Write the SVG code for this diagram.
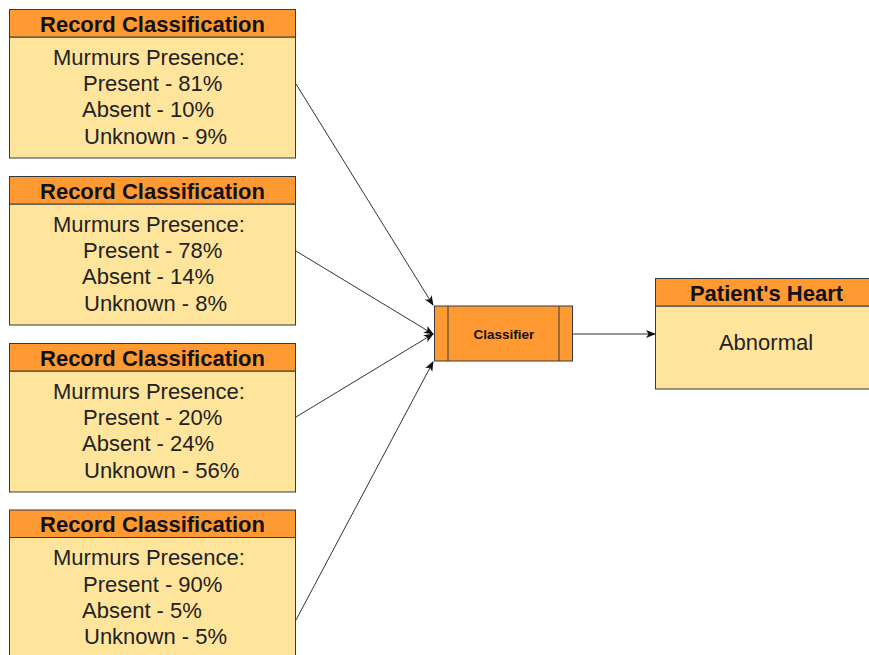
<svg xmlns="http://www.w3.org/2000/svg" width="869" height="655" viewBox="0 0 869 655">
<style>
.hdr{fill:#FF9A33;stroke:#36393d;stroke-width:1}
.body{fill:#FFE49C;stroke:#36393d;stroke-width:1}
.ht{font-family:"Liberation Sans",Arial,sans-serif;font-weight:bold;font-size:22px;fill:#111}
.bt{font-family:"Liberation Sans",Arial,sans-serif;font-size:22px;fill:#222}
.edge{stroke:#333;stroke-width:1;fill:none;marker-end:url(#ah)}
</style>
<defs>
<marker id="ah" viewBox="0 0 10 10" refX="9" refY="5" markerWidth="10" markerHeight="10" markerUnits="userSpaceOnUse" orient="auto">
<path d="M0,1 L10,5 L0,9 L2.5,5 Z" fill="#111"/>
</marker>
</defs>
<rect width="869" height="655" fill="#fff"/>
<g id="edges">
<line class="edge" x1="296" y1="84" x2="433" y2="305"/>
<line class="edge" x1="296" y1="251" x2="433" y2="334"/>
<line class="edge" x1="296" y1="417" x2="433" y2="334"/>
<line class="edge" x1="296" y1="620" x2="433" y2="362"/>
<line class="edge" x1="573" y1="334" x2="655" y2="334"/>
</g>
<g id="rec1">
<rect class="body" x="9.5" y="37" width="286" height="121"/>
<rect class="hdr" x="9.5" y="9.5" width="286" height="27.5"/>
<text class="ht" x="152.5" y="31.5" text-anchor="middle">Record Classification</text>
<text class="bt" x="53" y="64.5">Murmurs Presence:</text>
<text class="bt" x="83" y="91">Present - 81%</text>
<text class="bt" x="82" y="117.3">Absent - 10%</text>
<text class="bt" x="84" y="143.6">Unknown - 9%</text>
</g>
<g id="rec2">
<rect class="body" x="9.5" y="204" width="286" height="121"/>
<rect class="hdr" x="9.5" y="176.5" width="286" height="27.5"/>
<text class="ht" x="152.5" y="198.5" text-anchor="middle">Record Classification</text>
<text class="bt" x="53" y="231.5">Murmurs Presence:</text>
<text class="bt" x="83" y="258">Present - 78%</text>
<text class="bt" x="82" y="284.3">Absent - 14%</text>
<text class="bt" x="84" y="310.6">Unknown - 8%</text>
</g>
<g id="rec3">
<rect class="body" x="9.5" y="371" width="286" height="121"/>
<rect class="hdr" x="9.5" y="343.5" width="286" height="27.5"/>
<text class="ht" x="152.5" y="365.5" text-anchor="middle">Record Classification</text>
<text class="bt" x="53" y="398.5">Murmurs Presence:</text>
<text class="bt" x="83" y="425">Present - 20%</text>
<text class="bt" x="82" y="451.3">Absent - 24%</text>
<text class="bt" x="84" y="477.6">Unknown - 56%</text>
</g>
<g id="rec4">
<rect class="body" x="9.5" y="537.5" width="286" height="121"/>
<rect class="hdr" x="9.5" y="510" width="286" height="27.5"/>
<text class="ht" x="152.5" y="532" text-anchor="middle">Record Classification</text>
<text class="bt" x="53" y="565">Murmurs Presence:</text>
<text class="bt" x="83" y="591.5">Present - 90%</text>
<text class="bt" x="82" y="617.8">Absent - 5%</text>
<text class="bt" x="84" y="644.1">Unknown - 5%</text>
</g>
<g id="classifier">
<rect x="434.5" y="306" width="138" height="55" fill="#FF9A33" stroke="#36393d"/>
<line x1="448" y1="306" x2="448" y2="361" stroke="#36393d"/>
<line x1="559" y1="306" x2="559" y2="361" stroke="#36393d"/>
<text x="504" y="338.5" text-anchor="middle" font-family="Liberation Sans,Arial,sans-serif" font-weight="bold" font-size="13.5px" fill="#111">Classifier</text>
</g>
<g id="heart">
<rect class="body" x="655.5" y="306" width="220" height="83"/>
<rect class="hdr" x="655.5" y="278.5" width="220" height="27.5"/>
<text class="ht" x="766.5" y="300.5" text-anchor="middle">Patient's Heart</text>
<text class="bt" x="766" y="350" text-anchor="middle">Abnormal</text>
</g>
</svg>
